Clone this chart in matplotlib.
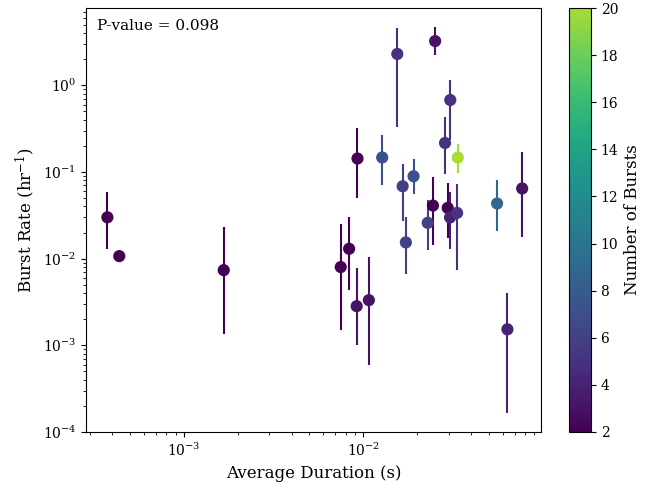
import matplotlib
matplotlib.use("Agg")
import matplotlib.pyplot as plt
from matplotlib.colors import ListedColormap, Normalize
import numpy as np

plt.rcParams['font.family'] = 'DejaVu Serif'
plt.rcParams['mathtext.fontset'] = 'dejavuserif'

# average burst duration (s)
durations = [3.75e-4, 4.37e-4, 1.67e-3, 7.5e-3, 8.35e-3, 9.2e-3, 1.076e-2, 9.3e-3,
             1.277e-2, 1.55e-2, 2.52e-2, 3.06e-2, 2.86e-2, 3.37e-2, 1.66e-2, 1.91e-2,
             1.73e-2, 2.29e-2, 2.45e-2, 2.96e-2, 3.05e-2, 3.34e-2, 5.58e-2, 7.7e-2, 6.37e-2]
# burst rate (1/hr)
rates = [0.030, 0.0107, 0.00737, 0.0080, 0.0130, 0.00283, 0.00332, 0.143,
         0.147, 2.3, 3.24, 0.677, 0.216, 0.147, 0.0685, 0.0893,
         0.0154, 0.0259, 0.041, 0.0385, 0.0299, 0.0337, 0.0433, 0.0645, 0.00153]
rate_lo = [0.0129, 0.0105, 0.00135, 0.0015, 0.0043, 0.0010, 5.9e-4, 0.0507,
           0.0703, 0.33, 2.24, 0.232, 0.096, 0.0975, 0.027, 0.055,
           0.0066, 0.0125, 0.0143, 0.0171, 0.0128, 0.0074, 0.0209, 0.0176, 1.67e-4]
rate_hi = [0.058, 0.0109, 0.0233, 0.025, 0.030, 0.0078, 0.0104, 0.325,
           0.27, 4.62, 4.7, 1.16, 0.43, 0.209, 0.125, 0.143,
           0.0303, 0.0472, 0.0877, 0.0755, 0.0589, 0.0736, 0.0818, 0.170, 0.0040]
n_bursts = [2, 2, 2, 2, 2, 3, 3, 2,
            7, 5, 3, 5, 5, 20, 6, 7,
            6, 6, 2, 2, 4, 5, 9, 3, 4]
p_value = 0.098

durations = np.array(durations)
rates = np.array(rates)
yerr = np.array([rates - np.array(rate_lo), np.array(rate_hi) - rates])

fig = plt.figure(figsize=(6.45, 4.97), dpi=100)
ax = fig.add_axes([0.1333, 0.1308, 0.7054, 0.8531])
cax = fig.add_axes([0.882, 0.1308, 0.0341, 0.8531])

# viridis, stopping short of the bright yellow end
cmap = ListedColormap(plt.get_cmap('viridis')(np.linspace(0, 0.87, 256)))
norm = Normalize(vmin=2, vmax=20)

for i in range(len(durations)):
    c = cmap(norm(n_bursts[i]))
    ax.errorbar(durations[i], rates[i], yerr=yerr[:, i:i + 1], fmt='none',
                ecolor=c, elinewidth=1.5, capsize=0, zorder=2)
sc = ax.scatter(durations, rates, c=n_bursts, cmap=cmap, norm=norm, s=60, zorder=3)

ax.set_xscale('log')
ax.set_yscale('log')
ax.set_xlim(2.85e-4, 0.098)
ax.set_ylim(1e-4, 7.8)
ax.set_xlabel('Average Duration (s)', fontsize=12)
ax.set_ylabel('Burst Rate (hr$^{-1}$)', fontsize=12)
ax.text(0.025, 0.975, f'P-value = {p_value}', transform=ax.transAxes,
        va='top', ha='left', fontsize=11)

cb = fig.colorbar(sc, cax=cax)
cb.set_label('Number of Bursts', fontsize=12)

fig.savefig('out.png', dpi=100)
